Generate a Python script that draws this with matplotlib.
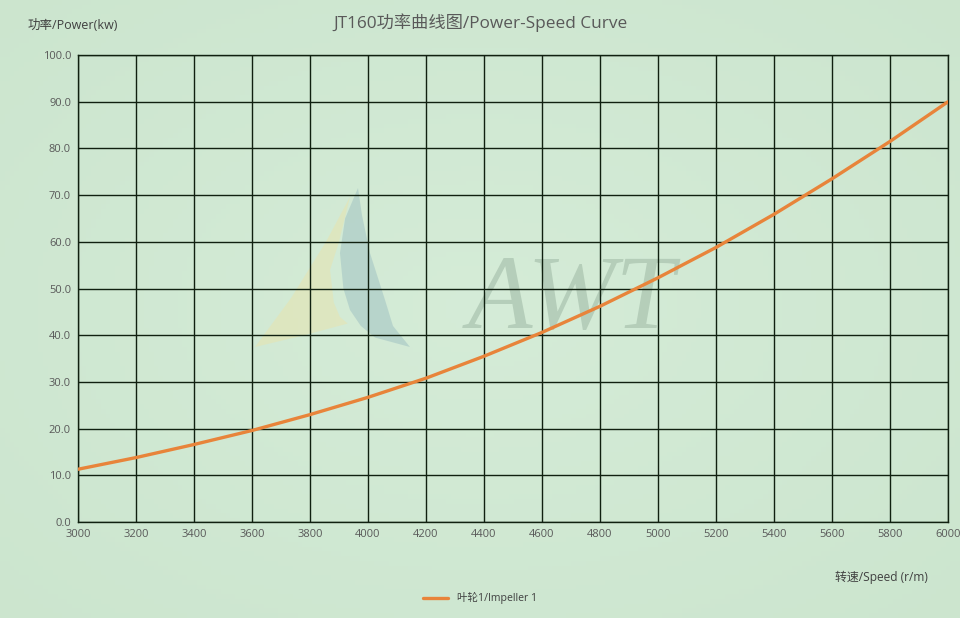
import numpy as np
import matplotlib
matplotlib.use("Agg")
import matplotlib.pyplot as plt
from matplotlib.patches import Polygon

plt.rcParams['font.family'] = ['Open Sans', 'Noto Sans CJK SC', 'DejaVu Sans']

speed = [3000, 3200, 3400, 3600, 3800, 4000, 4200, 4400, 4600,
         4800, 5000, 5200, 5400, 5600, 5800, 6000]
power = [11.3, 13.8, 16.6, 19.6, 23.0, 26.7, 30.8, 35.5, 40.6,
         46.2, 52.3, 58.8, 65.9, 73.5, 81.5, 90.0]
x_ticks = list(range(3000, 6001, 200))
y_ticks = list(range(0, 101, 10))

title = "JT160功率曲线图/Power-Speed Curve"
ylabel = "功率/Power(kw)"
xlabel = "转速/Speed (r/m)"
series_name = "叶轮1/Impeller 1"

fig = plt.figure(figsize=(9.6, 6.18), dpi=100)
fig.patch.set_facecolor('#cde7d0')

# soft background gradient
bg = fig.add_axes([0, 0, 1, 1], zorder=-10)
gx, gy = np.meshgrid(np.linspace(-1, 1, 200), np.linspace(-1, 1, 130))
r = np.sqrt(gx**2 + gy**2)
c0 = np.array([0.835, 0.925, 0.845])
c1 = np.array([0.800, 0.900, 0.810])
t = np.clip(r / 1.4, 0, 1)[..., None]
img = c0 * (1 - t) + c1 * t
bg.imshow(img, aspect='auto', extent=[0, 1, 0, 1])
bg.axis('off')

ax = fig.add_axes([0.08125, 0.1553, 0.9063, 0.7557])
ax.set_facecolor('none')

# watermark logo (decoration)
ax.add_patch(Polygon([(0.2034, 0.3747), (0.245, 0.48), (0.285, 0.60), (0.3126, 0.696),
                      (0.300, 0.60), (0.2897, 0.5396), (0.294, 0.47), (0.3011, 0.439),
                      (0.31, 0.425), (0.26, 0.40)],
                     closed=True, transform=ax.transAxes, facecolor='#e6e4b2',
                     edgecolor='none', alpha=0.6, zorder=0))
ax.add_patch(Polygon([(0.3218, 0.7152), (0.307, 0.65), (0.3011, 0.576), (0.305, 0.50),
                      (0.3126, 0.454), (0.325, 0.42), (0.3414, 0.395), (0.3816, 0.3747),
                      (0.362, 0.42), (0.3529, 0.4754), (0.3356, 0.576), (0.3264, 0.657)],
                     closed=True, transform=ax.transAxes, facecolor='#a9c9c6',
                     edgecolor='none', alpha=0.65, zorder=0))
ax.text(0.567, 0.47, "AWT", transform=ax.transAxes, fontsize=76,
        family='Liberation Serif', style='italic', color='#b0c9b5', alpha=0.85,
        ha='center', va='center', zorder=0)

ax.plot(speed, power, color='#e8843a', lw=2.4, zorder=3, label=series_name,
        solid_capstyle='round')

ax.set_xlim(3000, 6000)
ax.set_ylim(0, 100)
ax.set_xticks(x_ticks)
ax.set_yticks(y_ticks)
ax.set_yticklabels([f"{v:.1f}" for v in y_ticks])
ax.grid(True, color='#102010', lw=1.0, zorder=1)
for s in ax.spines.values():
    s.set_color('#102010')
    s.set_linewidth(1.0)
ax.tick_params(axis='both', length=0, labelsize=8, colors='#595959', pad=5)

fig.text(0.5, 0.963, title, ha='center', va='center', fontsize=12.4, color='#595959')
fig.text(0.029, 0.959, ylabel, ha='left', va='center', fontsize=9, color='#404040')
fig.text(0.87, 0.065, xlabel, ha='left', va='center', fontsize=8.6, color='#404040')

leg = fig.legend(loc='center', bbox_to_anchor=(0.5, 0.032), frameon=False,
                 fontsize=7.6, handlelength=2.4, labelcolor='#404040')

fig.savefig("out.png", dpi=100, facecolor=fig.get_facecolor())
